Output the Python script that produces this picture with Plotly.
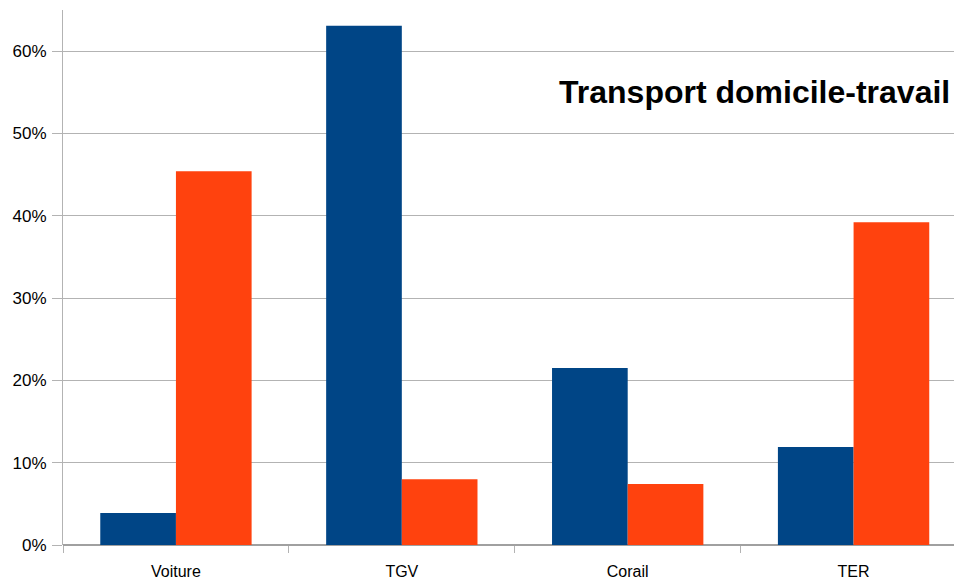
import plotly.graph_objects as go

categories = ["Voiture", "TGV", "Corail", "TER"]
serie_bleue = [0.039, 0.631, 0.215, 0.119]
serie_orange = [0.454, 0.080, 0.074, 0.392]
y_ticks = [0, 0.1, 0.2, 0.3, 0.4, 0.5, 0.6]
y_tick_labels = ["0%", "10%", "20%", "30%", "40%", "50%", "60%"]
title_text = "Transport domicile-travail"

fig = go.Figure()
fig.add_trace(go.Bar(x=categories, y=serie_bleue, marker_color="#004586", marker_line_width=0))
fig.add_trace(go.Bar(x=categories, y=serie_orange, marker_color="#ff420e", marker_line_width=0))

# page body has an 8px margin, so the figure is 8px smaller and offset accordingly
fig.update_layout(
    width=954, height=573,
    margin=dict(l=55, r=0, t=2, b=36, autoexpand=False),
    paper_bgcolor="white", plot_bgcolor="white",
    barmode="group", bargap=0.33, bargroupgap=0,
    showlegend=False,
    font=dict(family="Liberation Sans, Arial, sans-serif", size=16, color="black"),
)
fig.update_xaxes(
    range=[-0.5, 3.48], tickson="boundaries", ticks="outside", ticklen=7,
    tickcolor="#b3b3b3", showgrid=False, showline=False, ticklabelstandoff=15,
    tickfont=dict(size=16), automargin=False,
)
fig.update_yaxes(
    range=[0, 0.65], tickvals=y_ticks, ticktext=y_tick_labels,
    ticks="outside", ticklen=10, tickcolor="#b3b3b3",
    showgrid=True, gridcolor="#b3b3b3", gridwidth=1,
    showline=True, linecolor="#b3b3b3", linewidth=1,
    zeroline=True, zerolinecolor="#a0a0a0", zerolinewidth=2,
    ticklabelstandoff=2, tickfont=dict(size=17), automargin=False,
)
fig.add_annotation(
    x=0.989, y=0.847, xref="paper", yref="paper", xanchor="right", yanchor="middle",
    text="<b>" + title_text + "</b>", showarrow=False,
    font=dict(size=32, color="black", family="Liberation Sans, Arial, sans-serif"),
)
fig.write_html("out.html")
